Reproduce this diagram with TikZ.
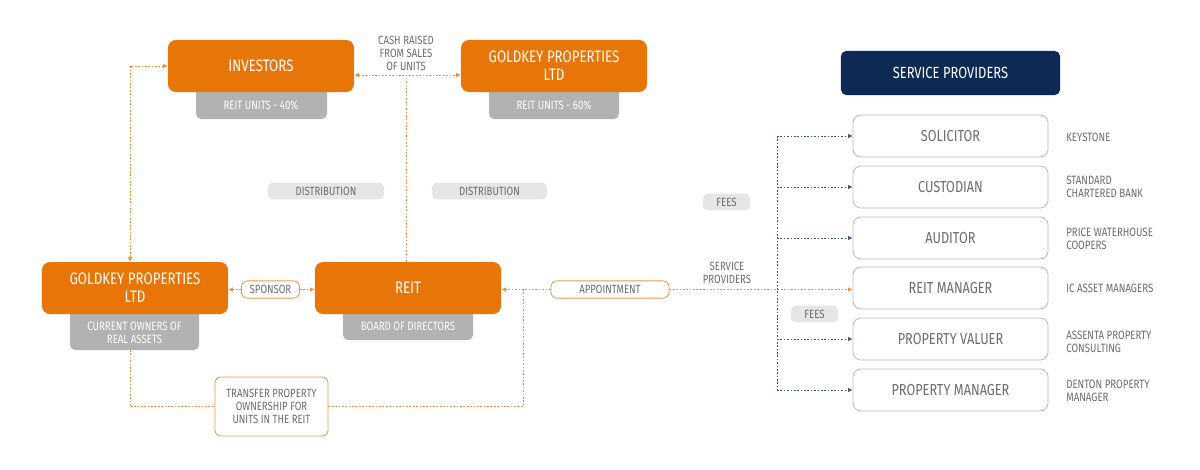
\documentclass[tikz,border=0pt]{standalone}
\usepackage{fontspec}
\setmainfont{Fira Sans}[FakeStretch=0.8]
\usetikzlibrary{arrows.meta}

\definecolor{reitorange}{RGB}{231,117,8}
\definecolor{subgrey}{RGB}{178,178,178}
\definecolor{taggrey}{RGB}{230,230,230}
\definecolor{textgrey}{RGB}{108,108,108}
\definecolor{boxgrey}{RGB}{188,188,188}
\definecolor{svcnavy}{RGB}{12,42,84}

\begin{document}
\begin{tikzpicture}[
  x=0.025cm, y=-0.025cm,
  >={Latex[length=3.2pt,width=3.2pt]},
  main box/.style={fill=reitorange, text=white, rounded corners=0.2cm, minimum width=4.65cm, minimum height=1.3cm, align=center, inner sep=0pt, font=\fontsize{11.8}{12.8}\selectfont},
  sub fill/.style={fill=subgrey, rounded corners=0.13cm},
  sub text/.style={text=white, align=center, inner sep=0pt, font=\fontsize{8.6}{9.2}\selectfont},
  tag box/.style={fill=taggrey, text=textgrey, rounded corners=0.12cm, minimum height=0.42cm, inner sep=0pt, font=\fontsize{8.5}{9}\selectfont},
  link box/.style={draw=reitorange!75, line width=0.6pt, fill=white, text=textgrey, rounded corners=0.15cm, minimum height=0.43cm, align=center, inner sep=0pt, font=\fontsize{8.5}{9.2}\selectfont},
  note text/.style={text=textgrey, align=center, inner sep=0pt, font=\fontsize{8.5}{9.2}\selectfont},
  provider box/.style={draw=boxgrey, line width=0.6pt, text=textgrey, rounded corners=0.2cm, minimum width=4.875cm, minimum height=1.05cm, inner sep=0pt, font=\fontsize{11.3}{13}\selectfont},
  firm text/.style={text=textgrey, anchor=west, align=left, inner sep=0pt, font=\fontsize{8.6}{9.2}\selectfont},
  orange link/.style={draw=reitorange!80, line width=0.5pt, dash pattern=on 1.2pt off 1.2pt},
  navy link/.style={draw=svcnavy!80, line width=0.5pt, dash pattern=on 1.2pt off 1.2pt}
]
\useasboundingbox (0,0) rectangle (1200,469);

% owners and units
\fill[sub fill] (196,80) rectangle (327,119);
\fill[sub fill] (489,80) rectangle (619,119);
\fill[sub fill] (70,300) rectangle (199,350);
\fill[sub fill] (343,300) rectangle (473,340);
\node[main box] (inv) at (261,66) {INVESTORS};
\node[main box] (gkt) at (554,66) {GOLDKEY PROPERTIES\\LTD};
\node[main box] (gkl) at (135,288) {GOLDKEY PROPERTIES\\LTD};
\node[main box] (reit) at (408,288) {REIT};
\node[sub text] (invunits) at (261,105) {REIT UNITS - 40\%};
\node[sub text] (gktunits) at (554,105) {REIT UNITS - 60\%};
\node[sub text] (gklowners) at (134.5,332.5) {CURRENT OWNERS OF\\REAL ASSETS};
\node[sub text] (reitboard) at (408,326) {BOARD OF DIRECTORS};

% labels
\node[note text] (cash) at (406,53) {CASH RAISED\\FROM SALES\\OF UNITS};
\node[tag box, minimum width=2.9cm] (dista) at (326,191) {DISTRIBUTION};
\node[tag box, minimum width=2.875cm] (distb) at (489.5,191) {DISTRIBUTION};
\node[tag box, minimum width=1.175cm] (feesa) at (726.5,202) {FEES};
\node[tag box, minimum width=1.175cm] (feesb) at (814.5,314) {FEES};
\node[link box, minimum width=1.45cm] (sponsor) at (270.5,289.5) {SPONSOR};
\node[link box, minimum width=2.95cm] (appoint) at (610,289.5) {APPOINTMENT};
\node[link box, minimum width=2.825cm, minimum height=1.475cm] (transfer) at (271.5,406.5) {TRANSFER PROPERTY\\OWNERSHIP FOR\\UNITS IN THE REIT};
\node[note text] (svclabel) at (727,272.5) {SERVICE\\PROVIDERS};

% service providers
\node[fill=svcnavy, text=white, rounded corners=0.13cm, minimum width=5.475cm, minimum height=1.1cm, inner sep=0pt, font=\fontsize{11.5}{13}\selectfont] (svc) at (950.5,73) {SERVICE PROVIDERS};
\node[provider box] (sol) at (950.5,136) {SOLICITOR};
\node[provider box] (cus) at (950.5,187) {CUSTODIAN};
\node[provider box] (aud) at (950.5,238) {AUDITOR};
\node[provider box] (mgr) at (950.5,288) {REIT MANAGER};
\node[provider box] (val) at (950.5,339) {PROPERTY VALUER};
\node[provider box] (pm) at (950.5,390) {PROPERTY MANAGER};
\node[firm text] (solfirm) at (1066,137) {KEYSTONE};
\node[firm text] (cusfirm) at (1066,186.5) {STANDARD\\CHARTERED BANK};
\node[firm text] (audfirm) at (1066,238.5) {PRICE WATERHOUSE\\COOPERS};
\node[firm text] (mgrfirm) at (1066,288) {IC ASSET MANAGERS};
\node[firm text] (valfirm) at (1066,341.5) {ASSENTA PROPERTY\\CONSULTING};
\node[firm text] (pmfirm) at (1066,390.5) {DENTON PROPERTY\\MANAGER};

% connectors
\coordinate (cashmid) at (406,75);
\coordinate (leftrail) at (130,66);
\coordinate (gklbase) at (130,350);
\coordinate (apptjoin) at (523,290);
\coordinate (rail) at (777,136);
\draw[orange link, <->] (inv.east |- cashmid) -- (gkt.west |- cashmid);
\draw[orange link] (reit.north -| cashmid) -- (cashmid);
\draw[orange link, <->] (inv.west) -| (gkl.north -| leftrail);
\draw[orange link, ->] (sponsor.west) -- (gkl.east |- sponsor.west);
\draw[orange link, ->] (sponsor.east) -- (reit.west |- sponsor.east);
\draw[orange link, ->] (appoint.west) -- (reit.east |- appoint.west);
\draw[orange link, ->] (appoint.east) -- (mgr.west |- appoint.east);
\draw[orange link] (gklbase) |- (transfer.west);
\draw[orange link] (transfer.east) -| (apptjoin);
\draw[navy link] (sol.west -| rail) -- (pm.west -| rail);
\foreach \n in {sol,cus,aud,val,pm}
  \draw[navy link, ->] (\n.west -| rail) -- (\n.west);
\end{tikzpicture}
\end{document}
